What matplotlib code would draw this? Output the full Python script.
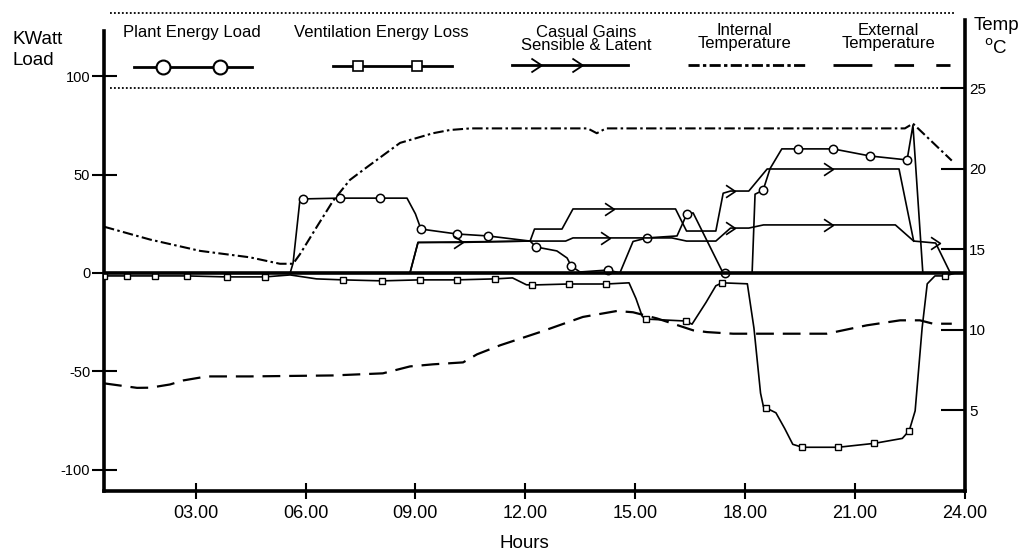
import numpy as np
import matplotlib
matplotlib.use('Agg')
import matplotlib.pyplot as plt
from matplotlib.path import Path

plt.rcParams['font.family'] = ['Liberation Sans', 'DejaVu Sans']
plt.rcParams['axes.unicode_minus'] = False

# plant energy load (KW) vs hour of day
plant_h = [0.5, 5.58, 5.66, 5.85, 5.93, 6.94, 8.03, 8.77, 9.0, 9.15, 10.13, 10.98, 12.13, 12.29,
           12.86, 13.14, 13.25, 13.49, 14.26, 14.58, 14.94, 15.32, 16.14, 16.41, 16.58, 17.37,
           17.45, 18.19, 18.27, 18.49, 18.68, 19.0, 19.44, 20.40, 21.41, 22.42, 22.58, 22.85, 24.0]
plant_kw = [0, 0, 5, 37.6, 37.6, 38.0, 38.0, 38.0, 30.0, 22.3, 19.8, 18.8, 16.2, 13.2,
            11.2, 7.6, 3.6, 0.5, 1.5, 0, 16, 17.8, 18.8, 30, 30.5, 1,
            0, 0, 40, 42, 53, 63, 63, 63, 59.4, 57.4, 75, 0, 0]
plant_marks = [4, 5, 6, 9, 10, 11, 13, 16, 18, 21, 23, 26, 29, 32, 33, 34, 35]

# ventilation energy loss (KW)
vent_h = [0.5, 1.13, 1.89, 2.77, 3.86, 4.89, 5.58, 6.3, 7.02, 8.09, 9.12, 10.13, 11.17, 11.65,
          12.03, 12.19, 13.18, 14.21, 14.83, 15.02, 15.19, 15.29, 16.38, 16.55, 16.93, 17.2,
          17.37, 18.06, 18.24, 18.42, 18.5, 18.57, 18.84, 19.08, 19.3, 19.56, 20.54, 21.53,
          22.29, 22.48, 22.64, 22.83, 22.97, 23.18, 23.46, 23.74, 24.0]
vent_kw = [-1.5, -1.5, -1.5, -1.5, -2, -2, -1, -3, -3.5, -4, -3.5, -3.5, -3, -2.5,
           -6, -6.1, -5.6, -5.6, -5, -13, -22, -23.4, -24.4, -26, -15, -6.5,
           -5, -5.5, -28, -61, -68, -68.5, -71, -79, -87, -88.5, -88.5, -86.5,
           -84, -80, -70, -28, -5.5, -1.5, -1.5, 0, 0]
vent_marks = [0, 1, 2, 3, 4, 5, 8, 9, 10, 11, 12, 15, 16, 17, 21, 22, 26, 31, 35, 36, 37, 39, 44]

# casual gains, the two traces (KW)
cas1_h = [0.5, 8.85, 9.07, 10.2, 12.13, 12.25, 13.0, 13.3, 14.3, 16.1, 16.4, 17.2, 17.4, 17.6,
          18.1, 18.6, 20.3, 22.2, 22.6, 23.2, 23.6, 24.0]
cas1_kw = [0, 0, 15.5, 15.5, 16.2, 22.3, 22.3, 32.5, 32.5, 32.5, 21.3, 21.3, 40.5, 41.6,
           41.6, 52.8, 52.8, 52.8, 16.2, 15.2, 0, 0]
cas1_marks = [3, 8, 13, 16, 19]
cas2_h = [0.5, 8.85, 9.07, 12.13, 13.1, 13.3, 14.2, 16.0, 16.4, 17.2, 17.6, 18.1, 18.5, 20.3,
          22.1, 22.6]
cas2_kw = [0, 0, 15.5, 16.2, 16.2, 17.8, 17.8, 17.8, 16.2, 16.2, 22.8, 22.8, 24.4, 24.4,
           24.4, 16.2]
cas2_marks = [6, 10, 13]

# temperatures, deg C (right axis)
int_h = [0.5, 1.76, 3.12, 4.48, 5.3, 5.66, 5.85, 6.31, 6.75, 7.21, 7.68, 8.58, 9.48, 9.94,
         10.5, 13.7, 13.95, 14.2, 22.36, 22.58, 23.64]
int_t = [16.4, 15.6, 14.9, 14.5, 14.1, 14.1, 14.7, 16.4, 18.0, 19.3, 20.1, 21.6, 22.2, 22.4,
         22.5, 22.5, 22.2, 22.5, 22.5, 22.8, 20.5]
ext_h = [0.5, 1.40, 1.76, 2.30, 2.66, 3.31, 4.48, 6.75, 8.11, 8.85, 9.48, 10.30, 10.68, 11.31,
         12.40, 13.57, 14.50, 14.94, 15.59, 16.58, 16.96, 17.67, 20.23, 21.32, 22.23, 22.77,
         23.13, 23.64]
ext_t = [6.68, 6.4, 6.41, 6.61, 6.86, 7.11, 7.11, 7.17, 7.30, 7.73, 7.86, 7.98, 8.48, 9.04,
         9.86, 10.80, 11.17, 11.09, 10.71, 9.97, 9.86, 9.76, 9.76, 10.28, 10.59, 10.59,
         10.38, 10.38]

hour_ticks = [3, 6, 9, 12, 15, 18, 21, 24]
hour_labels = ['03.00', '06.00', '09.00', '12.00', '15.00', '18.00', '21.00', '24.00']
kw_ticks = [-100, -50, 0, 50, 100]
temp_ticks = [5, 10, 15, 20, 25]

# open chevron used as the casual gains marker
chevron = Path([(-0.7, 0.8), (0.5, 0.0), (-0.7, -0.8)],
               [Path.MOVETO, Path.LINETO, Path.LINETO])

fig = plt.figure(figsize=(10.27, 5.51), dpi=100)
ax = fig.add_axes([0.1013, 0.1089, 0.8383, 0.8675])
ax2 = ax.twinx()

lw = 1.2
ax.plot(plant_h, plant_kw, c='black', lw=lw, marker='o', ms=6, mfc='white', mec='black',
        mew=1.1, markevery=plant_marks, zorder=4)
ax.plot(vent_h, vent_kw, c='black', lw=lw, marker='s', ms=4.5, mfc='white', mec='black',
        mew=1.0, markevery=vent_marks, zorder=4)
ax.plot(cas1_h, cas1_kw, c='black', lw=lw, marker=chevron, ms=9, mfc='none', mec='black',
        mew=1.2, markevery=cas1_marks, zorder=4)
ax.plot(cas2_h, cas2_kw, c='black', lw=lw, marker=chevron, ms=9, mfc='none', mec='black',
        mew=1.2, markevery=cas2_marks, zorder=4)
ax.axhline(0, c='black', lw=2.6, zorder=5)

ax2.plot(int_h, int_t, c='black', lw=1.5, dashes=(5, 1.6, 1.2, 1.6))
ax2.plot(ext_h, ext_t, c='black', lw=1.6, dashes=(8, 4))

ax.set_xlim(0.5, 24)
ax.set_ylim(-110.7, 132)
ax2.set_ylim(0, 29.66)

ax.set_xticks(hour_ticks)
ax.set_xticklabels(hour_labels, fontsize=13)
ax.set_yticks(kw_ticks)
ax.set_yticklabels([str(v) for v in kw_ticks], fontsize=10.5)
ax2.set_yticks(temp_ticks)
ax2.set_yticklabels([str(v) for v in temp_ticks], fontsize=11)

ax.tick_params(axis='x', direction='inout', length=12, width=1.5, pad=4)
ax.tick_params(axis='y', direction='inout', length=18, width=1.5, pad=1)
ax2.tick_params(axis='y', direction='in', length=17, width=1.5, pad=3)

for a in (ax, ax2):
    a.spines['top'].set_visible(False)
ax.spines['right'].set_visible(False)
ax2.spines['left'].set_visible(False)
ax2.spines['bottom'].set_visible(False)
ax.spines['left'].set_linewidth(2.6)
ax.spines['bottom'].set_linewidth(2.6)
ax2.spines['right'].set_linewidth(2.6)
ax.spines['left'].set_bounds(-110.7, 122.8)
ax2.spines['right'].set_bounds(0, 29.2)

# legend box: dotted rules top and bottom, label above each sample
t = ax.transAxes
ax.plot([0.007, 0.988], [1.0, 1.0], transform=t, c='black', lw=1.3, ls=(0, (1, 1.2)), clip_on=False)
ax.plot([0.007, 0.988], [0.843, 0.843], transform=t, c='black', lw=1.3, ls=(0, (1, 1.2)), clip_on=False)

ax.text(0.102, 0.960, 'Plant Energy Load', transform=t, ha='center', va='center', fontsize=12)
ax.plot([0.035, 0.172], [0.887, 0.887], transform=t, c='black', lw=2)
ax.plot([0.0685, 0.135], [0.887, 0.887], transform=t, ls='none', marker='o', ms=10,
        mfc='white', mec='black', mew=1.5)

ax.text(0.322, 0.960, 'Ventilation Energy Loss', transform=t, ha='center', va='center', fontsize=12)
ax.plot([0.266, 0.404], [0.889, 0.889], transform=t, c='black', lw=2)
ax.plot([0.295, 0.3635], [0.889, 0.889], transform=t, ls='none', marker='s', ms=7,
        mfc='white', mec='black', mew=1.2)

ax.text(0.560, 0.946, 'Casual Gains\nSensible & Latent', transform=t, ha='center', va='center',
        fontsize=12, linespacing=0.8)
ax.plot([0.474, 0.609], [0.891, 0.891], transform=t, c='black', lw=2)
ax.plot([0.503, 0.5505], [0.891, 0.891], transform=t, ls='none', marker=chevron, ms=10,
        mfc='none', mec='black', mew=1.3)

ax.text(0.744, 0.950, 'Internal\nTemperature', transform=t, ha='center', va='center',
        fontsize=12, linespacing=0.8)
ax.plot([0.678, 0.814], [0.891, 0.891], transform=t, c='black', lw=2, dashes=(4, 1.2, 1.2, 1.2))

ax.text(0.9106, 0.950, 'External\nTemperature', transform=t, ha='center', va='center',
        fontsize=12, linespacing=0.8)
ax.plot([0.847, 0.983], [0.891, 0.891], transform=t, c='black', lw=2, dashes=(14, 8, 7, 8))

fig.text(0.0117, 0.929, 'KWatt', ha='left', va='center', fontsize=13.5)
fig.text(0.0117, 0.891, 'Load', ha='left', va='center', fontsize=13.5)
fig.text(0.970, 0.953, 'Temp', ha='center', va='center', fontsize=13.5)
fig.text(0.970, 0.912, r'$^{\mathrm{o}}$C', ha='center', va='center', fontsize=13.5)
fig.text(0.511, 0.0145, 'Hours', ha='center', va='center', fontsize=13.5)

plt.savefig('out.png', dpi=100)
